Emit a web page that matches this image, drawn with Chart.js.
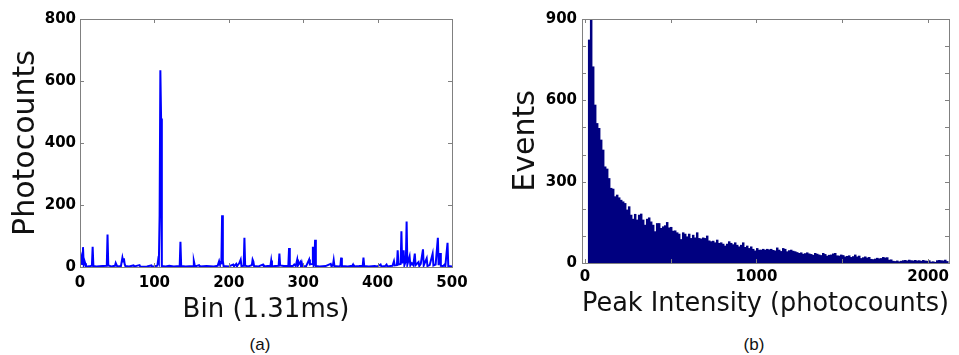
<!DOCTYPE html>
<html>
<head>
<meta charset="utf-8">
<script src="https://cdn.jsdelivr.net/npm/chart.js@4/dist/chart.umd.min.js"></script>
<style>
  html, body { margin: 0; padding: 0; background: #fff; }
  body { width: 959px; height: 355px; position: relative; overflow: hidden; }
  canvas { position: absolute; top: 0; }
  #binChart { left: 0; }
  #histChart { left: 490px; }
  .caption {
    position: absolute;
    top: 335px;
    line-height: 20px;
    font: 17px "Liberation Sans", Arial, sans-serif;
    color: #111;
    transform: translateX(-50%);
  }
</style>
</head>
<body>
<canvas id="binChart" width="480" height="330"></canvas>
<canvas id="histChart" width="469" height="330"></canvas>
<div class="caption" style="left:260px">(a)</div>
<div class="caption" style="left:754px">(b)</div>
<script>
// (a) photocounts per 1.31 ms bin - vertices of the trace
const bins = [
  0, 2, 3, 4, 5, 6, 7, 8, 10, 14,
  16, 17, 18, 22, 30, 36, 37, 38, 42, 47,
  48, 50, 55, 57, 58, 59, 60, 61, 66, 72,
  73, 80, 81, 90, 96, 97, 104, 105, 106, 107,
  108, 109, 110, 115, 120, 126, 134, 135, 136, 142,
  152, 153, 154, 155, 160, 161, 170, 180, 185, 187,
  188, 190, 191, 192, 193, 200, 206, 207, 210, 211,
  214, 216, 217, 220, 221, 222, 226, 231, 232, 233,
  234, 240, 246, 247, 252, 256, 257, 258, 262, 267,
  268, 269, 274, 280, 281, 282, 286, 288, 290, 292,
  293, 296, 297, 298, 299, 304, 308, 309, 312, 313,
  314, 315, 316, 317, 322, 330, 337, 338, 340, 341,
  342, 348, 350, 351, 352, 360, 366, 367, 368, 375,
  380, 381, 382, 388, 396, 400, 404, 405, 410, 412,
  413, 420, 422, 423, 426, 427, 428, 431, 432, 433,
  435, 436, 438, 439, 440, 443, 444, 446, 448, 450,
  451, 455, 456, 458, 461, 462, 466, 467, 470, 474,
  475, 478, 481, 482, 484, 485, 488, 490, 491, 494,
  495, 500
];
const photocounts = [
  5, 30, 10, 64, 8, 20, 12, 3, 2, 3,
  4, 65, 3, 2, 3, 4, 105, 5, 2, 4,
  13, 2, 3, 30, 18, 28, 10, 3, 2, 5,
  2, 6, 1, 2, 5, 1, 4, 22, 15, 165,
  635, 479, 3, 2, 4, 2, 3, 81, 3, 2,
  3, 19, 8, 2, 6, 2, 3, 2, 4, 19,
  10, 12, 167, 20, 3, 2, 8, 2, 10, 3,
  12, 24, 3, 4, 94, 4, 2, 6, 24, 18,
  3, 2, 8, 2, 3, 4, 21, 2, 3, 4,
  43, 5, 3, 4, 61, 4, 3, 8, 3, 24,
  5, 16, 6, 14, 2, 3, 24, 8, 10, 65,
  4, 10, 88, 3, 2, 3, 10, 2, 6, 22,
  3, 2, 4, 30, 3, 2, 4, 8, 2, 3,
  4, 30, 3, 2, 3, 2, 8, 2, 3, 8,
  2, 4, 19, 5, 6, 54, 8, 10, 115, 12,
  54, 6, 20, 147, 8, 34, 5, 12, 6, 43,
  6, 16, 3, 10, 57, 5, 28, 3, 6, 43,
  5, 8, 94, 6, 45, 4, 3, 8, 2, 78,
  3, 2
];
const binTicks = [0, 100, 200, 300, 400, 500];
const binTickLabels = [0, 100, 200, 300, 400, 500];
const countTicks = [0, 200, 400, 600, 800];
const countTickLabels = [0, 200, 400, 600, 800];

// (b) histogram of peak intensities
const histStart = 19;
const histBinWidth = 11.66;
const events = [
  824, 950, 725, 584, 516, 498, 455, 418, 356, 348,
  313, 277, 274, 246, 252, 242, 233, 227, 221, 197,
  209, 178, 163, 181, 160, 178, 182, 160, 141, 163,
  168, 153, 141, 117, 147, 147, 129, 135, 139, 151,
  131, 133, 119, 120, 113, 108, 88, 113, 108, 98,
  108, 92, 104, 94, 113, 92, 90, 94, 92, 101,
  83, 80, 82, 76, 86, 74, 76, 71, 64, 71,
  80, 74, 69, 76, 67, 61, 67, 76, 59, 64,
  55, 61, 52, 46, 55, 49, 49, 52, 49, 52,
  50, 52, 48, 46, 57, 49, 44, 55, 52, 43,
  47, 49, 45, 43, 40, 37, 39, 34, 36, 39,
  35, 33, 30, 37, 34, 31, 29, 37, 33, 27,
  30, 31, 35, 37, 28, 27, 31, 29, 24, 26,
  28, 22, 25, 31, 24, 27, 18, 21, 24, 20,
  22, 15, 14, 16, 19, 17, 18, 22, 20, 21,
  12, 13, 8, 7, 9, 6, 8, 10, 11, 9,
  12, 10, 9, 11, 9, 10, 8, 11, 9, 8,
  10, 5, 6, 4, 10, 11, 10, 9, 12, 7
];
const intensityTicks = [0, 500, 1000, 1500, 2000];
const intensityTickLabels = [0, 1000, 2000];
const eventTicks = [0, 100, 200, 300, 400, 500, 600, 700, 800, 900];
const eventTickLabels = [0, 300, 600, 900];

const tickFont = { family: "DejaVu Sans", weight: "bold", size: 15 };
const xTitleFont = { family: "DejaVu Sans", size: 26 };
const yTitleFont = { family: "DejaVu Sans", size: 30 };
const axisGray = "#808080";

// matlab-style box with inward ticks on all four sides
const axesBox = {
  id: "axesBox",
  afterDatasetsDraw(chart) {
    const { ctx, chartArea: area, scales } = chart;
    const len = 4;
    ctx.save();
    ctx.strokeStyle = axisGray;
    ctx.lineWidth = 1;
    ctx.beginPath();
    scales.x.ticks.forEach((tick) => {
      const px = Math.round(scales.x.getPixelForValue(tick.value)) + 0.5;
      ctx.moveTo(px, area.bottom);
      ctx.lineTo(px, area.bottom - len);
      ctx.moveTo(px, area.top);
      ctx.lineTo(px, area.top + len);
    });
    scales.y.ticks.forEach((tick) => {
      const py = Math.round(scales.y.getPixelForValue(tick.value)) + 0.5;
      ctx.moveTo(area.left, py);
      ctx.lineTo(area.left + len, py);
      ctx.moveTo(area.right, py);
      ctx.lineTo(area.right - len, py);
    });
    ctx.stroke();
    ctx.strokeRect(
      Math.round(area.left) + 0.5,
      Math.round(area.top) + 0.5,
      Math.round(area.right - area.left),
      Math.round(area.bottom - area.top)
    );
    ctx.restore();
  }
};

function axis(opts) {
  return {
    type: "linear",
    min: opts.min,
    max: opts.max,
    offset: false,
    grid: { display: false, drawTicks: false },
    border: { display: false },
    afterBuildTicks: (scale) => {
      scale.ticks = opts.ticks.map((value) => ({ value }));
    },
    ticks: {
      padding: opts.padding,
      color: "#000",
      font: tickFont,
      maxRotation: 0,
      minRotation: 0,
      autoSkip: false,
      callback: (value) => (opts.labels.includes(Number(value)) ? String(value) : "")
    },
    title: {
      display: true,
      text: opts.title,
      color: "#111",
      font: opts.titleFont,
      padding: opts.titlePadding
    },
    afterFit: opts.fit
  };
}

const baseOptions = {
  responsive: false,
  animation: false,
  devicePixelRatio: 1,
  plugins: { legend: { display: false }, tooltip: { enabled: false } }
};

new Chart(document.querySelector("#binChart"), {
  type: "line",
  data: {
    datasets: [{
      data: bins.map((bin, i) => ({ x: bin, y: photocounts[i] })),
      borderColor: "#0000ff",
      borderWidth: 2,
      pointRadius: 0,
      tension: 0
    }]
  },
  options: {
    ...baseOptions,
    layout: { padding: { top: 19, right: 28, left: 0, bottom: 0 } },
    scales: {
      x: axis({
        min: 0, max: 500, ticks: binTicks, padding: 7, labels: binTickLabels,
        title: "Bin (1.31ms)", titleFont: xTitleFont, titlePadding: { top: 0, bottom: 4 },
        fit: (scale) => { scale.height = 63; }
      }),
      y: axis({
        min: 0, max: 800, ticks: countTicks, padding: 4, labels: countTickLabels,
        title: "Photocounts", titleFont: yTitleFont, titlePadding: { top: 8, bottom: 0 },
        fit: (scale) => { scale.width = 80; }
      })
    }
  },
  plugins: [axesBox]
});

new Chart(document.querySelector("#histChart"), {
  type: "bar",
  data: {
    datasets: [{
      data: events.map((count, i) => ({ x: histStart + histBinWidth * (i + 0.5), y: count })),
      backgroundColor: "#000080",
      borderWidth: 0,
      barPercentage: 1.25,
      categoryPercentage: 1
    }]
  },
  options: {
    ...baseOptions,
    layout: { padding: { top: 19, right: 10, left: 0, bottom: 0 } },
    scales: {
      x: axis({
        min: -17, max: 2122, ticks: intensityTicks, padding: 5, labels: intensityTickLabels,
        title: "Peak Intensity (photocounts)", titleFont: xTitleFont, titlePadding: { top: 0, bottom: 10 },
        fit: (scale) => { scale.height = 67; }
      }),
      y: axis({
        min: 0, max: 900, ticks: eventTicks, padding: 5, labels: eventTickLabels,
        title: "Events", titleFont: yTitleFont, titlePadding: { top: 18, bottom: 0 },
        fit: (scale) => { scale.width = 92; }
      })
    }
  },
  plugins: [axesBox]
});
</script>
</body>
</html>
